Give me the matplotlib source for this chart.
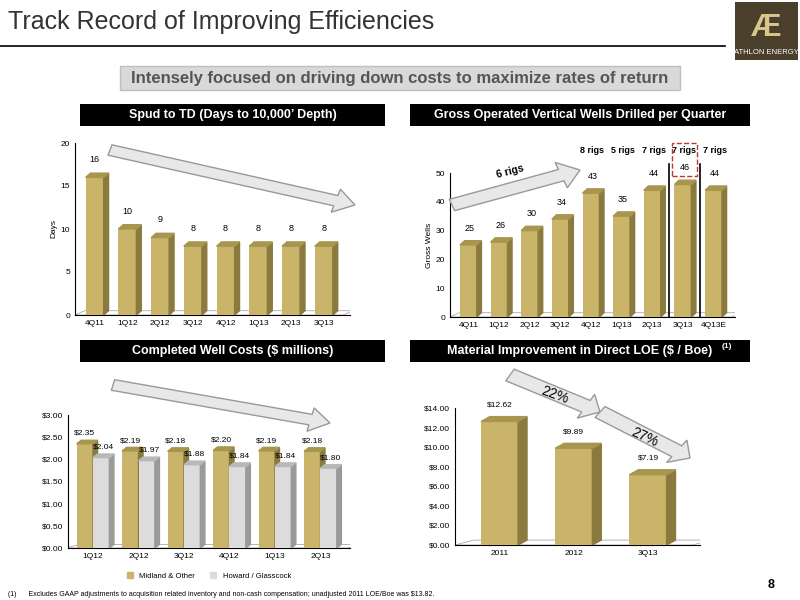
import matplotlib
matplotlib.use("Agg")
import matplotlib.pyplot as plt
from matplotlib.patches import Polygon, Rectangle, FancyArrow
import numpy as np

plt.rcParams['font.family'] = ['Liberation Sans', 'DejaVu Sans']

spud_cats = ["4Q11", "1Q12", "2Q12", "3Q12", "4Q12", "1Q13", "2Q13", "3Q13"]
spud_days = [16, 10, 9, 8, 8, 8, 8, 8]
wells_cats = ["4Q11", "1Q12", "2Q12", "3Q12", "4Q12", "1Q13", "2Q13", "3Q13", "4Q13E"]
wells = [25, 26, 30, 34, 43, 35, 44, 46, 44]
rig_labels = ["", "", "", "", "8 rigs", "5 rigs", "7 rigs", "7 rigs", "7 rigs"]
cost_cats = ["1Q12", "2Q12", "3Q12", "4Q12", "1Q13", "2Q13"]
midland = [2.35, 2.19, 2.18, 2.20, 2.19, 2.18]
howard = [2.04, 1.97, 1.88, 1.84, 1.84, 1.80]
loe_cats = ["2011", "2012", "3Q13"]
loe = [12.62, 9.89, 7.19]

GOLD = "#c9b46a"; GOLD_SIDE = "#8a7a3e"; GOLD_TOP = "#a8964f"
GRAY = "#dcdcdc"; GRAY_SIDE = "#9a9a9a"; GRAY_TOP = "#b8b8b8"

fig = plt.figure(figsize=(8, 6), dpi=100)
W, H = 800, 600
def fx(px): return px / W
def fy(py): return 1 - py / H

def box(x0, y0, x1, y1, **kw):
    fig.patches.append(Rectangle((fx(x0), fy(y1)), fx(x1) - fx(x0), fy(y0) - fy(y1),
                                 transform=fig.transFigure, **kw))

# title
fig.text(fx(8), fy(22), "Track Record of Improving Efficiencies", fontsize=18, color="#333333", va="center")
fig.lines.append(plt.Line2D([0, fx(725)], [fy(46), fy(46)], transform=fig.transFigure, color="black", lw=1.2))
box(735, 2, 798, 60, facecolor="#4a3f2a")
fig.text(fx(766), fy(28), "Æ", fontsize=22, color="#d8c68c", ha="center", va="center", fontweight="bold")
fig.text(fx(766), fy(52), "ATHLON ENERGY", fontsize=5.5, color="white", ha="center", va="center")
box(120, 66, 680, 90, facecolor="#d9d9d9", edgecolor="#bfbfbf")
fig.text(fx(400), fy(78), "Intensely focused on driving down costs to maximize rates of return",
         fontsize=12, fontweight="bold", color="#555555", ha="center", va="center")
for (x0, x1, y0, t) in [(80, 385, 104, "Spud to TD (Days to 10,000\u2019 Depth)"),
                        (410, 750, 104, "Gross Operated Vertical Wells Drilled per Quarter"),
                        (80, 385, 340, "Completed Well Costs (\\$ millions)"),
                        (410, 750, 340, "Material Improvement in Direct LOE (\\$ / Boe)")]:
    box(x0, y0, x1, y0 + 22, facecolor="black")
    fig.text(fx((x0 + x1) / 2), fy(y0 + 11), t, color="white", fontsize=9, fontweight="bold", ha="center", va="center")
fig.text(fx(722), fy(347), "(1)", color="white", fontsize=6, fontweight="bold", ha="left", va="center")

def add_axes(x0, y0, x1, y1):
    ax = fig.add_axes([fx(x0), fy(y1), fx(x1) - fx(x0), fy(y0) - fy(y1)])
    for s in ["top", "right"]:
        ax.spines[s].set_visible(False)
    ax.tick_params(labelsize=6, length=0)
    return ax

def bars3d(ax, x, vals, width, face, side, top, dx, dy):
    ax.bar(x, vals, width, color=face, zorder=3)
    for xi, v in zip(x, vals):
        l, r = xi - width / 2, xi + width / 2
        ax.add_patch(Polygon([(r, 0), (r + dx, dy), (r + dx, v + dy), (r, v)], closed=True, color=side, zorder=3))
        ax.add_patch(Polygon([(l, v), (l + dx, v + dy), (r + dx, v + dy), (r, v)], closed=True, color=top, zorder=3))

def floor(ax, n, dy, dx=0.3):
    ax.add_patch(Polygon([(-0.6, 0), (-0.6 + dx, dy), (n - 0.4 + dx, dy), (n - 0.4, 0)], closed=True,
                         facecolor="white", edgecolor="#aaaaaa", lw=0.6, zorder=1))

# Chart 1
ax1 = add_axes(75, 143, 350, 315)
x = np.arange(len(spud_cats))
floor(ax1, len(x), 0.5)
bars3d(ax1, x, spud_days, 0.55, GOLD, GOLD_SIDE, GOLD_TOP, 0.15, 0.5)
for xi, v in zip(x, spud_days):
    ax1.text(xi, v + 1.8, str(v), ha="center", fontsize=6.5)
ax1.set_ylim(0, 20); ax1.set_yticks([0, 5, 10, 15, 20])
ax1.set_xlim(-0.6, len(x) - 0.2)
ax1.set_xticks(x, spud_cats)
ax1.set_ylabel("Days", fontsize=6, labelpad=2)
fig.patches.append(FancyArrow(fx(110), fy(150), fx(355) - fx(110), fy(205) - fy(150), width=0.018,
                              head_width=0.04, head_length=0.025, length_includes_head=True,
                              transform=fig.transFigure, facecolor="#e8e8e8", edgecolor="#999999"))

# Chart 2
ax2 = add_axes(450, 173, 735, 317)
x = np.arange(len(wells_cats))
floor(ax2, len(x), 1.5)
bars3d(ax2, x, wells, 0.55, GOLD, GOLD_SIDE, GOLD_TOP, 0.15, 1.5)
for xi, v, r in zip(x, wells, rig_labels):
    ax2.text(xi + 0.05, v + 5, str(v), ha="center", fontsize=6.5)
    if r:
        ax2.text(xi + 0.05, 57, r, ha="center", fontsize=6.5, fontweight="bold", clip_on=False)
ax2.set_ylim(0, 50); ax2.set_yticks(range(0, 51, 10))
ax2.set_xlim(-0.6, len(x) - 0.3)
ax2.set_xticks(x, wells_cats)
ax2.set_ylabel("Gross Wells", fontsize=6, labelpad=2)
for xv in [6.55, 7.55]:
    ax2.plot([xv, xv], [0, 53], color="black", lw=1.2, clip_on=False, zorder=4)
ax2.add_patch(Rectangle((6.65, 48.9), 0.8, 11.5, fill=False, edgecolor="#c0392b", ls="--", lw=1, clip_on=False))
fig.patches.append(FancyArrow(fx(452), fy(205), fx(580) - fx(452), fy(170) - fy(205), width=0.02,
                              head_width=0.045, head_length=0.025, length_includes_head=True,
                              transform=fig.transFigure, facecolor="#e8e8e8", edgecolor="#999999"))
fig.text(fx(510), fy(178), "6 rigs", fontsize=7.5, fontweight="bold", rotation=15, ha="center")

# Chart 3
ax3 = add_axes(68, 415, 350, 548)
x = np.arange(len(cost_cats))
floor(ax3, len(x), 0.08)
w = 0.36
bars3d(ax3, x - w / 2, midland, w, GOLD, GOLD_SIDE, GOLD_TOP, 0.1, 0.08)
bars3d(ax3, x + w / 2, howard, w, GRAY, GRAY_SIDE, GRAY_TOP, 0.1, 0.08)
for xi, a, b in zip(x, midland, howard):
    ax3.text(xi - w / 2, a + 0.2, f"${a:.2f}", ha="center", fontsize=6)
    ax3.text(xi + w / 2 + 0.05, b + 0.2, f"${b:.2f}", ha="center", fontsize=6)
ax3.set_ylim(0, 3); ax3.set_yticks(np.arange(0, 3.01, 0.5))
ax3.set_yticklabels([f"${v:.2f}" for v in np.arange(0, 3.01, 0.5)])
ax3.set_xlim(-0.55, len(x) - 0.35)
ax3.set_xticks(x, cost_cats)
ax3.legend(handles=[Rectangle((0, 0), 1, 1, color=GOLD), Rectangle((0, 0), 1, 1, color=GRAY)],
           labels=["Midland & Other", "Howard / Glasscock"], loc="upper center", bbox_to_anchor=(0.5, -0.13),
           ncol=2, frameon=False, fontsize=5.5, handlelength=0.8, handleheight=0.8)
fig.patches.append(FancyArrow(fx(113), fy(385), fx(330) - fx(113), fy(423) - fy(385), width=0.018,
                              head_width=0.04, head_length=0.025, length_includes_head=True,
                              transform=fig.transFigure, facecolor="#e8e8e8", edgecolor="#999999"))

# Chart 4
ax4 = add_axes(455, 408, 700, 545)
x = np.arange(len(loe_cats))
floor(ax4, len(x), 0.5, 0.25)
bars3d(ax4, x, loe, 0.5, GOLD, GOLD_SIDE, GOLD_TOP, 0.12, 0.5)
for xi, v in zip(x, loe):
    ax4.text(xi, v + 1.5, f"${v:.2f}", ha="center", fontsize=6)
ax4.set_ylim(0, 14); ax4.set_yticks(range(0, 15, 2))
ax4.set_yticklabels([f"${v:.2f}" for v in range(0, 15, 2)])
ax4.set_xlim(-0.6, len(x) - 0.3)
ax4.set_xticks(x, loe_cats)
for (a, b, t, rot) in [((510, 375), (600, 412), "22%", -20), ((600, 412), (690, 458), "27%", -25)]:
    fig.patches.append(FancyArrow(fx(a[0]), fy(a[1]), fx(b[0]) - fx(a[0]), fy(b[1]) - fy(a[1]), width=0.022,
                                  head_width=0.045, head_length=0.02, length_includes_head=True,
                                  transform=fig.transFigure, facecolor="#e8e8e8", edgecolor="#999999"))
    fig.text(fx((a[0] + b[0]) / 2), fy((a[1] + b[1]) / 2 + 2), t, fontsize=10, rotation=rot, ha="center", va="center")

fig.text(fx(8), fy(595), "(1)      Excludes GAAP adjustments to acquisition related inventory and non-cash compensation; unadjusted 2011 LOE/Boe was $13.82.",
         fontsize=5, va="center")
fig.text(fx(775), fy(585), "8", fontsize=9, fontweight="bold", ha="right", va="center")

fig.savefig("out.png", dpi=100)
